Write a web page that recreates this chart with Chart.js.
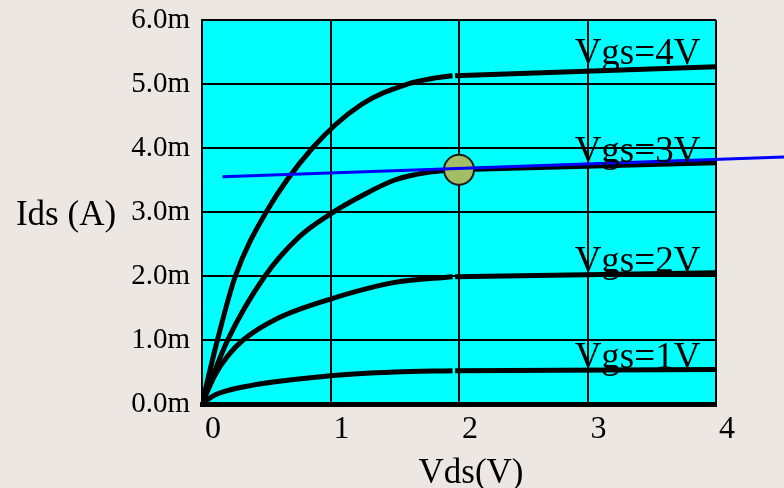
<!DOCTYPE html>
<html>
<head>
<meta charset="utf-8">
<script src="https://cdn.jsdelivr.net/npm/chart.js@4"></script>
<style>
  html, body { margin: 0; padding: 0; background: #ECE7E3; }
  #wrap { width: 784px; height: 488px; }
</style>
</head>
<body>
<div id="wrap"><canvas id="c" width="784" height="488"></canvas></div>
<script>
// ---- data ----
const xTicks = [0, 1, 2, 3, 4];
const yTicks = [0, 1, 2, 3, 4, 5, 6]; // mA

// Vgs = 4V
const vds4a = [0, 0.12, 0.26, 0.5, 0.86, 1.24, 1.6, 1.8, 1.95];
const ids4a = [0, 1.0, 2.0, 3.0, 4.0, 4.68, 5.0, 5.09, 5.13];
const vds4b = [1.97, 4];
const ids4b = [5.13, 5.27];
// Vgs = 3V
const vds3a = [0, 0.2, 0.49, 0.75, 1.0, 1.24, 1.5, 1.76, 1.95];
const ids3a = [0, 1.0, 2.0, 2.6, 2.97, 3.25, 3.5, 3.62, 3.66];
const vds3b = [1.97, 4];
const ids3b = [3.66, 3.77];
// Vgs = 2V
const vds2a = [0, 0.1, 0.2, 0.32, 0.59, 1.0, 1.5, 1.95];
const ids2a = [0, 0.45, 0.75, 1.0, 1.34, 1.64, 1.9, 1.99];
const vds2b = [1.97, 4];
const ids2b = [1.99, 2.05];
// Vgs = 1V
const vds1a = [0, 0.1, 0.33, 1.0, 1.5, 1.95];
const ids1a = [0, 0.14, 0.27, 0.44, 0.5, 0.52];
const vds1b = [1.97, 4];
const ids1b = [0.52, 0.54];
// load line and Q point
const loadX = [0.16, 4.53];
const loadY = [3.55, 3.86];
const qX = [2.0];
const qY = [3.66];
// curve labels
const curveLabels = ["Vgs=4V", "Vgs=3V", "Vgs=2V", "Vgs=1V"];
const labelX = [2.9, 2.9, 2.9, 2.9];
const labelY = [5.31, 3.78, 2.06, 0.56];

function pts(xs, ys) { return xs.map((x, i) => ({ x: x, y: ys[i] })); }

function curve(xs, ys) {
  return {
    data: pts(xs, ys),
    borderColor: '#000000',
    borderWidth: 5,
    pointRadius: 0,
    fill: false,
    cubicInterpolationMode: 'monotone',
    borderCapStyle: 'butt',
    order: 3
  };
}

const SERIF = "'Liberation Serif', 'DejaVu Serif', serif";

const bgPlugin = {
  id: 'bg',
  beforeDraw(chart) {
    const ctx = chart.ctx, a = chart.chartArea;
    ctx.save();
    ctx.fillStyle = '#ECE7E3';
    ctx.fillRect(0, 0, chart.width, chart.height);
    ctx.fillStyle = '#00FFFF';
    ctx.fillRect(a.left, a.top, a.right - a.left, a.bottom - a.top);
    ctx.restore();
  }
};

const textPlugin = {
  id: 'texts',
  afterDraw(chart) {
    const ctx = chart.ctx;
    const xs = chart.scales.x, ys = chart.scales.y;
    ctx.save();
    ctx.fillStyle = '#000000';
    ctx.textBaseline = 'alphabetic';
    ctx.font = '37px ' + SERIF;
    ctx.textAlign = 'left';
    curveLabels.forEach((t, i) => {
      ctx.fillText(t, xs.getPixelForValue(labelX[i]), ys.getPixelForValue(labelY[i]));
    });
    ctx.textAlign = 'center';
    ctx.font = '35px ' + SERIF;
    ctx.fillText('Ids (A)', 66, 225);
    ctx.font = '35px ' + SERIF;
    ctx.fillText('Vds(V)', (xs.left + xs.right) / 2 + 12, 483);
    ctx.restore();
  }
};

new Chart(document.getElementById('c'), {
  type: 'line',
  data: {
    datasets: [
      {
        data: pts(loadX, loadY),
        borderColor: '#0000FF',
        borderWidth: 3,
        pointRadius: 0,
        fill: false,
        clip: false,
        order: 1
      },
      {
        data: pts(qX, qY),
        showLine: false,
        pointRadius: 15,
        pointBackgroundColor: '#A3BE66',
        pointBorderColor: '#1A1A1A',
        pointBorderWidth: 2,
        clip: false,
        order: 2
      },
      curve(vds4a, ids4a), curve(vds4b, ids4b),
      curve(vds3a, ids3a), curve(vds3b, ids3b),
      curve(vds2a, ids2a), curve(vds2b, ids2b),
      curve(vds1a, ids1a), curve(vds1b, ids1b)
    ]
  },
  options: {
    responsive: false,
    animation: false,
    devicePixelRatio: 1,
    layout: { padding: { top: 20, right: 68, left: 0, bottom: 0 } },
    plugins: { legend: { display: false }, tooltip: { enabled: false } },
    scales: {
      x: {
        type: 'linear',
        min: xTicks[0],
        max: xTicks[xTicks.length - 1],
        afterBuildTicks(s) { s.ticks = xTicks.map(v => ({ value: v })); },
        afterFit(s) { s.height = 84; s.paddingLeft = 0; s.paddingRight = 0; },
        grid: { color: '#000000', lineWidth: 2, drawTicks: false },
        border: { display: true, color: '#000000', width: 5 },
        ticks: {
          color: '#000000',
          font: { family: SERIF, size: 32 },
          padding: 6,
          labelOffset: 11,
          maxRotation: 0,
          callback: v => String(v)
        }
      },
      y: {
        type: 'linear',
        min: yTicks[0],
        max: yTicks[yTicks.length - 1],
        afterBuildTicks(s) { s.ticks = yTicks.map(v => ({ value: v })); },
        afterFit(s) { s.width = 202; s.paddingTop = 0; s.paddingBottom = 0; },
        grid: { color: '#000000', lineWidth: 2, drawTicks: false },
        border: { display: true, color: '#000000', width: 2 },
        ticks: {
          color: '#000000',
          font: { family: SERIF, size: 29 },
          padding: 12,
          callback: v => v.toFixed(1) + 'm'
        }
      }
    }
  },
  plugins: [bgPlugin, textPlugin]
});
</script>
</body>
</html>
